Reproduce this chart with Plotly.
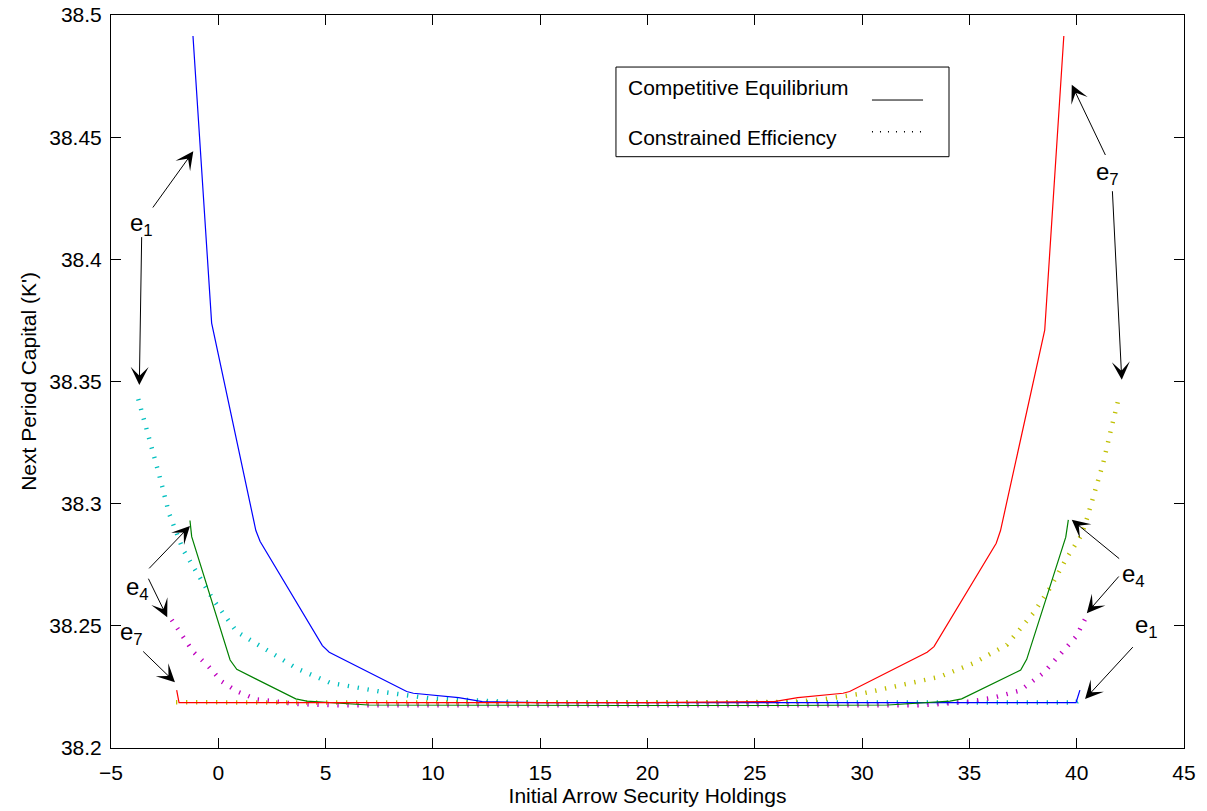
import plotly.graph_objects as go

# Initial Arrow security holdings (x) and next period capital K' (y)
# Competitive equilibrium paths
ce_e1_x = [-1.18, -0.31, 1.75, 1.95, 4.85, 5.17, 8.78, 9.09, 11.2, 12.3, 15.0, 20.0, 25.0, 30.0, 35.0, 39.97, 40.15]
ce_e1_y = [38.4914, 38.3739, 38.2890, 38.2845, 38.2419, 38.2392, 38.2231, 38.2224, 38.2206, 38.2190,
           38.2186, 38.2186, 38.2186, 38.2186, 38.2186, 38.2186, 38.2237]

ce_e4_x = [-1.32, -1.24, 0.55, 0.86, 3.61, 4.12, 7.0, 12.0, 19.1, 26.0, 31.2, 34.10, 34.64, 37.39, 37.67, 39.49, 39.61]
ce_e4_y = [38.2931, 38.2865, 38.2360, 38.2322, 38.2201, 38.2192, 38.2176, 38.2174, 38.2174, 38.2174,
           38.2176, 38.2192, 38.2201, 38.2319, 38.2363, 38.2863, 38.2934]

ce_e7_x = [-1.94, -1.83, 5.0, 10.0, 15.0, 20.0, 25.9, 27.0, 29.11, 29.42, 33.03, 33.35, 36.25, 36.45, 38.51, 39.40]
ce_e7_y = [38.2237, 38.2186, 38.2186, 38.2186, 38.2186, 38.2186, 38.2190, 38.2206, 38.2224, 38.2231,
           38.2392, 38.2415, 38.2838, 38.2890, 38.3710, 38.4914]

# Constrained efficient paths
cse_e1_x = [-3.73, -3.34, -3.00, -2.64, -2.30, -1.64, -1.17, -0.23, 0.86, 2.10, 3.65, 5.20, 7.53, 9.86,
            11.26, 12.5, 14.0, 20.0, 26.0, 32.0, 38.0, 39.95, 40.30]
cse_e1_y = [38.3428, 38.3312, 38.3196, 38.3080, 38.2961, 38.2811, 38.2742, 38.2606, 38.2476, 38.2408,
            38.2326, 38.2267, 38.2231, 38.2203, 38.2197, 38.2190, 38.2187, 38.2186, 38.2186, 38.2186,
            38.2186, 38.2186, 38.2206]

cse_e4_x = [-2.17, -1.66, -1.17, -0.45, 0.16, 0.89, 1.79, 2.72, 3.65, 5.5, 12.0, 19.0, 26.0, 32.6,
            33.63, 35.03, 36.11, 37.36, 38.44, 39.30, 39.97, 40.39]
cse_e4_y = [38.2524, 38.2456, 38.2394, 38.2333, 38.2272, 38.2231, 38.2199, 38.2190, 38.2180, 38.2175,
            38.2174, 38.2174, 38.2174, 38.2175, 38.2180, 38.2190, 38.2206, 38.2235, 38.2306, 38.2392,
            38.2456, 38.2527]

cse_e7_x = [-1.97, 0.0, 6.0, 12.0, 18.0, 24.0, 26.64, 28.19, 30.06, 31.84, 33.63, 35.18, 36.74, 37.98,
            38.75, 39.53, 40.23, 40.47, 40.85, 41.24, 41.55, 41.99]
cse_e7_y = [38.2187, 38.2186, 38.2186, 38.2186, 38.2186, 38.2186, 38.2188, 38.2199, 38.2224, 38.2258,
            38.2292, 38.2347, 38.2422, 38.2552, 38.2654, 38.2777, 38.2872, 38.2937, 38.3052, 38.3168,
            38.3286, 38.3443]

x_ticks = [-5, 0, 5, 10, 15, 20, 25, 30, 35, 40, 45]
x_tick_text = ["\u22125", "0", "5", "10", "15", "20", "25", "30", "35", "40", "45"]
y_ticks = [38.2, 38.25, 38.3, 38.35, 38.4, 38.45, 38.5]
y_tick_text = ["38.2", "38.25", "38.3", "38.35", "38.4", "38.45", "38.5"]

FONT = "Liberation Sans, Arial, sans-serif"
BLUE, GREEN, RED = "#0000FF", "#008000", "#FF0000"
CYAN, MAGENTA, YELLOW = "#00BFBF", "#BF00BF", "#BFBF00"
DOTS = "1.3px,8.7px"

fig = go.Figure()


def dotted(x, y, color):
    fig.add_trace(go.Scatter(x=x, y=y, mode="lines",
                             line=dict(color=color, width=4.5, dash=DOTS),
                             showlegend=False, hoverinfo="skip"))


def solid(x, y, color):
    fig.add_trace(go.Scatter(x=x, y=y, mode="lines",
                             line=dict(color=color, width=1.2),
                             showlegend=False, hoverinfo="skip"))


dotted(cse_e1_x, cse_e1_y, CYAN)
dotted(cse_e4_x, cse_e4_y, MAGENTA)
dotted(cse_e7_x, cse_e7_y, YELLOW)
solid(ce_e1_x, ce_e1_y, BLUE)
solid(ce_e4_x, ce_e4_y, GREEN)
solid(ce_e7_x, ce_e7_y, RED)

# Endowment labels and the arrows pointing at each path
labels = [
    ("e<sub>1</sub>", -4.21, 38.4143),
    ("e<sub>4</sub>", -4.41, 38.2652),
    ("e<sub>7</sub>", -4.67, 38.2469),
    ("e<sub>7</sub>", 40.81, 38.4351),
    ("e<sub>4</sub>", 42.00, 38.2705),
    ("e<sub>1</sub>", 42.62, 38.2496),
]
for txt, lx, ly in labels:
    fig.add_annotation(x=lx, y=ly, text=txt, showarrow=False, xanchor="left", yanchor="middle",
                       font=dict(family=FONT, size=24, color="black"))

# (tail x, tail y, head x, head y)
arrows = [
    (-3.10, 38.4206, -1.165, 38.4442),
    (-3.57, 38.4097, -3.68, 38.3486),
    (-3.29, 38.2729, -1.32, 38.2909),
    (-3.29, 38.2699, -2.38, 38.2535),
    (-3.57, 38.2401, -2.02, 38.2269),
    (41.37, 38.4421, 39.77, 38.4715),
    (41.66, 38.4285, 42.10, 38.3507),
    (42.05, 38.2770, 39.77, 38.2934),
    (42.02, 38.2708, 40.47, 38.2552),
    (42.68, 38.2419, 40.39, 38.2201),
]
for tx, ty, hx, hy in arrows:
    fig.add_annotation(x=hx, y=hy, ax=tx, ay=ty, xref="x", yref="y", axref="x", ayref="y",
                       text="", showarrow=True, arrowhead=3, arrowsize=3.0, arrowwidth=1,
                       arrowcolor="black", standoff=0, startstandoff=0)

# Legend box with text on the left and line samples on the right
fig.add_shape(type="rect", xref="paper", yref="paper", x0=0.4706, x1=0.7810, y0=0.8067, y1=0.9290,
              line=dict(color="black", width=1), fillcolor="white", layer="above")
fig.add_annotation(xref="paper", yref="paper", x=0.4800, y=0.9015, text="Competitive Equilibrium",
                   showarrow=False, xanchor="left", yanchor="middle",
                   font=dict(family=FONT, size=21, color="black"))
fig.add_annotation(xref="paper", yref="paper", x=0.4800, y=0.8335, text="Constrained Efficiency",
                   showarrow=False, xanchor="left", yanchor="middle",
                   font=dict(family=FONT, size=21, color="black"))
fig.add_shape(type="line", xref="paper", yref="paper", x0=0.7092, x1=0.7568, y0=0.8840, y1=0.8840,
              line=dict(color="black", width=1), layer="above")
fig.add_shape(type="line", xref="paper", yref="paper", x0=0.7092, x1=0.7568, y0=0.8408, y1=0.8408,
              line=dict(color="black", width=1.5, dash="1px,7px"), layer="above")

axis_common = dict(showline=True, linecolor="black", linewidth=1, mirror="ticks",
                   ticks="inside", ticklen=10, tickcolor="black", tickwidth=1,
                   showgrid=False, zeroline=False, automargin=False,
                   tickfont=dict(family=FONT, size=21, color="black"))

fig.update_xaxes(range=[-5, 45], tickvals=x_ticks, ticktext=x_tick_text,
                 title=dict(text="Initial Arrow Security Holdings", standoff=2,
                            font=dict(family=FONT, size=21, color="black")),
                 ticklabelstandoff=6, **axis_common)
fig.update_yaxes(range=[38.2, 38.5], tickvals=y_ticks, ticktext=y_tick_text,
                 title=dict(text="Next Period Capital (K')", standoff=6,
                            font=dict(family=FONT, size=21, color="black")),
                 ticklabelstandoff=4, **axis_common)

fig.update_layout(width=1207, height=811, margin=dict(l=111, r=23, t=15, b=63),
                  plot_bgcolor="white", paper_bgcolor="white")

fig.write_html("out.html")
